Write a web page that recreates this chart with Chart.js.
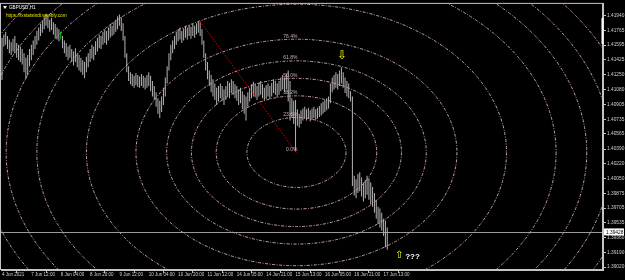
<!DOCTYPE html>
<html>
<head>
<meta charset="utf-8">
<title>GBPUSD,H1</title>
<script src="https://cdn.jsdelivr.net/npm/chart.js@4.4.1/dist/chart.umd.min.js"></script>
<style>
    html, body { margin: 0; padding: 0; background: #000; }
    #chart { display: block; }
</style>
</head>
<body>
<canvas id="chart" width="625" height="280"></canvas>
<script>
// ===== DADOS =====
const symbolTitle = 'GBPUSD,H1';
const siteUrl = 'https://fxstatsindi.weebly.com';

// H1 bars, 4 Jun 2021 21:00 -> 17 Jun 15:00
const highs = [
    1.4168, 1.4172, 1.4175, 1.4170, 1.4166, 1.4163, 1.4167, 1.4170, 1.4162, 1.4160,
    1.4158, 1.4155, 1.4150, 1.4145, 1.4148, 1.4155, 1.4160, 1.4165, 1.4170, 1.4176,
    1.4180, 1.4184, 1.4188, 1.4192, 1.4196, 1.4193, 1.4189, 1.4191, 1.4186, 1.4184,
    1.4180, 1.4178, 1.4175, 1.4170, 1.4165, 1.4162, 1.4158, 1.4160, 1.4155, 1.4152,
    1.4156, 1.4150, 1.4148, 1.4145, 1.4142, 1.4140, 1.4146, 1.4150, 1.4155, 1.4160,
    1.4158, 1.4164, 1.4168, 1.4172, 1.4170, 1.4175, 1.4178, 1.4176, 1.4180, 1.4184,
    1.4182, 1.4186, 1.4189, 1.4193, 1.4195, 1.4192, 1.4185, 1.4170, 1.4150, 1.4135,
    1.4128, 1.4126, 1.4124, 1.4127, 1.4125, 1.4123, 1.4126, 1.4124, 1.4122, 1.4125,
    1.4128, 1.4124, 1.4118, 1.4112, 1.4105, 1.4098, 1.4095, 1.4100, 1.4110, 1.4122,
    1.4135, 1.4150, 1.4160, 1.4165, 1.4170, 1.4175, 1.4178, 1.4180, 1.4176, 1.4179,
    1.4182, 1.4180, 1.4183, 1.4181, 1.4184, 1.4182, 1.4185, 1.4187, 1.4186, 1.4178,
    1.4165, 1.4150, 1.4140, 1.4130, 1.4125, 1.4120, 1.4115, 1.4110, 1.4112, 1.4115,
    1.4112, 1.4108, 1.4112, 1.4118, 1.4116, 1.4120, 1.4118, 1.4114, 1.4112, 1.4108,
    1.4110, 1.4106, 1.4102, 1.4100, 1.4105, 1.4110, 1.4114, 1.4117, 1.4115, 1.4112,
    1.4116, 1.4118, 1.4114, 1.4110, 1.4113, 1.4115, 1.4112, 1.4116, 1.4120, 1.4118,
    1.4115, 1.4118, 1.4122, 1.4125, 1.4122, 1.4126, 1.4130, 1.4118, 1.4098, 1.4095,
    1.4096, 1.4085, 1.4080, 1.4084, 1.4086, 1.4088, 1.4085, 1.4087, 1.4084, 1.4086,
    1.4088, 1.4085, 1.4087, 1.4089, 1.4092, 1.4094, 1.4096, 1.4098, 1.4100, 1.4115,
    1.4122, 1.4125, 1.4128, 1.4126, 1.4130, 1.4134, 1.4128, 1.4122, 1.4118, 1.4115,
    1.4106, 1.4100, 1.4008, 1.4004, 1.4010, 1.4012, 1.4006, 1.4000, 1.4003, 1.4008,
    1.4005, 1.4000, 1.3995, 1.3988, 1.3980, 1.3972, 1.3970, 1.3965, 1.3958, 1.3956,
    1.3948
];
const lows = [
    1.4119, 1.4158, 1.4160, 1.4155, 1.4150, 1.4148, 1.4152, 1.4150, 1.4145, 1.4142,
    1.4140, 1.4137, 1.4128, 1.4120, 1.4125, 1.4135, 1.4142, 1.4148, 1.4155, 1.4160,
    1.4165, 1.4170, 1.4174, 1.4178, 1.4182, 1.4179, 1.4175, 1.4177, 1.4172, 1.4168,
    1.4166, 1.4164, 1.4166, 1.4156, 1.4150, 1.4146, 1.4142, 1.4145, 1.4140, 1.4136,
    1.4140, 1.4134, 1.4130, 1.4128, 1.4125, 1.4121, 1.4128, 1.4134, 1.4140, 1.4144,
    1.4142, 1.4148, 1.4152, 1.4156, 1.4155, 1.4160, 1.4162, 1.4160, 1.4165, 1.4168,
    1.4170, 1.4172, 1.4175, 1.4178, 1.4182, 1.4176, 1.4165, 1.4145, 1.4128, 1.4118,
    1.4114, 1.4112, 1.4110, 1.4113, 1.4111, 1.4110, 1.4112, 1.4110, 1.4108, 1.4110,
    1.4112, 1.4106, 1.4100, 1.4096, 1.4088, 1.4080, 1.4075, 1.4082, 1.4090, 1.4100,
    1.4115, 1.4130, 1.4142, 1.4150, 1.4155, 1.4160, 1.4164, 1.4166, 1.4162, 1.4165,
    1.4168, 1.4166, 1.4170, 1.4167, 1.4170, 1.4168, 1.4172, 1.4174, 1.4170, 1.4160,
    1.4145, 1.4130, 1.4120, 1.4112, 1.4105, 1.4100, 1.4096, 1.4090, 1.4094, 1.4098,
    1.4095, 1.4090, 1.4096, 1.4100, 1.4098, 1.4104, 1.4102, 1.4098, 1.4095, 1.4090,
    1.4092, 1.4085, 1.4080, 1.4072, 1.4088, 1.4094, 1.4098, 1.4100, 1.4099, 1.4096,
    1.4100, 1.4102, 1.4098, 1.4095, 1.4097, 1.4100, 1.4097, 1.4100, 1.4104, 1.4102,
    1.4099, 1.4102, 1.4106, 1.4108, 1.4105, 1.4108, 1.4094, 1.4072, 1.4075, 1.4068,
    1.4036, 1.4066, 1.4064, 1.4068, 1.4072, 1.4074, 1.4072, 1.4074, 1.4071, 1.4073,
    1.4075, 1.4073, 1.4074, 1.4076, 1.4078, 1.4080, 1.4082, 1.4084, 1.4086, 1.4092,
    1.4105, 1.4108, 1.4110, 1.4108, 1.4112, 1.4115, 1.4110, 1.4104, 1.4100, 1.4098,
    1.4094, 1.3996, 1.3985, 1.3982, 1.3988, 1.3990, 1.3984, 1.3978, 1.3982, 1.3986,
    1.3980, 1.3975, 1.3972, 1.3965, 1.3958, 1.3952, 1.3948, 1.3944, 1.3938, 1.3925,
    1.3922
];
const greenBars = [32];
const bidPrice = 1.39428;

// eixo de preço e eixo de tempo (um rótulo a cada 16 barras)
const priceTicks = [
    1.41940, 1.41765, 1.41595, 1.41425, 1.41250, 1.41080, 1.40905, 1.40735, 1.40565,
    1.40390, 1.40220, 1.40050, 1.39875, 1.39705, 1.39535, 1.39360, 1.39190, 1.39020
];
const timeLabels = [
    '4 Jun 2021', '7 Jun 12:00', '8 Jun 04:00', '8 Jun 20:00', '9 Jun 12:00',
    '10 Jun 04:00', '10 Jun 20:00', '11 Jun 12:00', '14 Jun 05:00', '14 Jun 21:00',
    '15 Jun 13:00', '16 Jun 05:00', '16 Jun 21:00', '17 Jun 13:00'
];
const barsPerLabel = 16;
const priceMin = 1.38986;
const priceMax = 1.42074;
const barMin = -0.55;
const barMax = 327.6;

// Fibonacci arcs: ponto 1 (topo) -> ponto 2 (fundo, centro dos arcos)
const fibFrom = [108, 1.4187];
const fibTo = [160.5, 1.4035];
const fibRadiusBars = 114.5;
const fibRadiusPrice = 0.0172;
const fibLevels = [0.236, 0.382, 0.5, 0.618, 0.764, 1, 1.236, 1.382, 1.5, 1.618];
const fibLabelLevels = [0, 0.236, 0.382, 0.5, 0.618, 0.764, 1];

// setas amarelas
const arrowDown = [185.5, 1.4147];
const arrowUp = [216.5, 1.3915];
const questionText = '???';

// ===== CORES / FONTES =====
const FONT = '"Liberation Sans", "DejaVu Sans", sans-serif';
const AXIS_COLOR = '#c4c4c4';
const BAR_COLOR = '#b4b4b4';
const ARC_COLOR = '#c9a0aa';

let mainChart = null;

// ===== PLUGIN DE OBJETOS (MT4) =====
const mt4Objects = {
    id: 'mt4Objects',
    beforeDatasetsDraw(chart) {
        const { ctx, chartArea: a, scales: { y } } = chart;
        // linha do Bid
        const by = Math.round(y.getPixelForValue(bidPrice)) + 0.5;
        ctx.save();
        ctx.strokeStyle = '#9a9a9a';
        ctx.lineWidth = 1;
        ctx.beginPath();
        ctx.moveTo(a.left, by);
        ctx.lineTo(a.right, by);
        ctx.stroke();
        ctx.restore();
    },
    afterDatasetsDraw(chart) {
        const { ctx, chartArea: a, scales: { x, y } } = chart;
        const cx = x.getPixelForValue(fibTo[0]);
        const cy = y.getPixelForValue(fibTo[1]);
        const rx1 = x.getPixelForValue(fibTo[0] + fibRadiusBars) - cx;
        const ry1 = y.getPixelForValue(fibTo[1] - fibRadiusPrice) - cy;

        ctx.save();
        ctx.beginPath();
        ctx.rect(a.left, a.top, a.right - a.left, a.bottom - a.top);
        ctx.clip();

        // arcos (elipses)
        ctx.strokeStyle = ARC_COLOR;
        ctx.lineWidth = 1;
        ctx.setLineDash([3, 1.5, 1, 1.5]);
        fibLevels.forEach(lv => {
            ctx.beginPath();
            ctx.ellipse(cx, cy, rx1 * lv, ry1 * lv, 0, 0, Math.PI * 2);
            ctx.stroke();
        });

        // linha de tendência vermelha
        ctx.strokeStyle = '#e00000';
        ctx.setLineDash([1.5, 1.5]);
        ctx.beginPath();
        ctx.moveTo(x.getPixelForValue(fibFrom[0]), y.getPixelForValue(fibFrom[1]));
        ctx.lineTo(cx, cy);
        ctx.stroke();
        ctx.setLineDash([]);

        // rótulos dos níveis
        ctx.fillStyle = '#cbb0b8';
        ctx.font = '5px ' + FONT;
        ctx.textAlign = 'right';
        ctx.textBaseline = 'bottom';
        fibLabelLevels.forEach(lv => {
            ctx.fillText((lv * 100).toFixed(1) + '%', cx + 1, cy - ry1 * lv - 0.5);
        });

        // setas
        ctx.fillStyle = '#ffff00';
        ctx.textAlign = 'center';
        ctx.textBaseline = 'middle';
        ctx.font = '12px "DejaVu Sans"';
        ctx.fillText('\u21E9', x.getPixelForValue(arrowDown[0]), y.getPixelForValue(arrowDown[1]));
        ctx.font = '10px "DejaVu Sans"';
        const ux = x.getPixelForValue(arrowUp[0]);
        const uy = y.getPixelForValue(arrowUp[1]);
        ctx.fillText('\u21E7', ux, uy);
        ctx.fillStyle = '#ffffff';
        ctx.font = 'bold 8px ' + FONT;
        ctx.textAlign = 'left';
        ctx.fillText(questionText, ux + 6, uy + 0.5);
        ctx.restore();
    },
    afterDraw(chart) {
        const { ctx, chartArea: a, scales: { y } } = chart;
        ctx.save();
        // moldura
        ctx.strokeStyle = AXIS_COLOR;
        ctx.lineWidth = 1;
        ctx.strokeRect(a.left - 0.5, a.top - 0.5, a.right - a.left, a.bottom - a.top);

        // marcador branco no eixo de preço
        const t1 = y.getPixelForValue(1.4191);
        const t2 = y.getPixelForValue(1.4161);
        ctx.fillStyle = '#ffffff';
        ctx.fillRect(a.right - 1.5, t1, 2, t2 - t1);

        // caixa do Bid
        const by = y.getPixelForValue(bidPrice);
        ctx.fillStyle = '#ffffff';
        ctx.fillRect(a.right + 1, by - 3.5, chart.width - a.right - 2, 7);
        ctx.fillStyle = '#000000';
        ctx.font = '4.8px ' + FONT;
        ctx.textAlign = 'left';
        ctx.textBaseline = 'middle';
        ctx.fillText(bidPrice.toFixed(5), a.right + 3, by + 0.3);

        // título e URL
        ctx.fillStyle = '#ffffff';
        ctx.beginPath();
        ctx.moveTo(a.left + 2, a.top + 2);
        ctx.lineTo(a.left + 6, a.top + 2);
        ctx.lineTo(a.left + 4, a.top + 5);
        ctx.closePath();
        ctx.fill();
        ctx.font = '4.6px ' + FONT;
        ctx.textBaseline = 'middle';
        ctx.fillText(symbolTitle, a.left + 8, a.top + 3.5);
        ctx.fillStyle = '#e6e600';
        ctx.font = '4.7px ' + FONT;
        ctx.fillText(siteUrl, a.left + 5, a.top + 12);
        ctx.restore();
    }
};

// ===== GRÁFICO =====
function initChart() {
    const canvas = document.getElementById('chart');
    const bars = highs.map((h, i) => ({ x: i, y: [lows[i], h] }));

    mainChart = new Chart(canvas, {
        type: 'bar',
        data: {
            datasets: [{
                label: symbolTitle,
                data: bars,
                backgroundColor: ctx => greenBars.includes(ctx.dataIndex) ? '#00c800' : BAR_COLOR,
                borderWidth: 0,
                barThickness: 1,
                inflateAmount: 0,
                grouped: false
            }]
        },
        options: {
            responsive: false,
            devicePixelRatio: 1,
            animation: false,
            events: [],
            layout: { padding: { left: 1, top: 1, right: 0, bottom: 0 } },
            plugins: {
                legend: { display: false },
                tooltip: { enabled: false }
            },
            scales: {
                x: {
                    type: 'linear',
                    min: barMin,
                    max: barMax,
                    offset: false,
                    afterBuildTicks: scale => {
                        scale.ticks = timeLabels.map((t, k) => ({ value: k * barsPerLabel }));
                    },
                    afterFit: scale => { scale.height = 10; },
                    grid: {
                        drawOnChartArea: false,
                        drawTicks: true,
                        tickLength: 3,
                        color: AXIS_COLOR
                    },
                    border: { display: true, color: AXIS_COLOR },
                    ticks: {
                        autoSkip: false,
                        maxRotation: 0,
                        align: 'start',
                        padding: -1,
                        color: '#d0d0d0',
                        font: { family: FONT, size: 4.5 },
                        callback: value => timeLabels[Math.round(value / barsPerLabel)] || ''
                    }
                },
                y: {
                    type: 'linear',
                    position: 'right',
                    min: priceMin,
                    max: priceMax,
                    afterBuildTicks: scale => {
                        scale.ticks = priceTicks.map(v => ({ value: v }));
                    },
                    afterFit: scale => { scale.width = 22; },
                    grid: {
                        drawOnChartArea: false,
                        drawTicks: true,
                        tickLength: 3,
                        color: AXIS_COLOR
                    },
                    border: { display: true, color: AXIS_COLOR },
                    ticks: {
                        padding: 1,
                        color: '#d0d0d0',
                        font: { family: FONT, size: 4.8 },
                        callback: value => Number(value).toFixed(5)
                    }
                }
            }
        },
        plugins: [mt4Objects]
    });
}

document.addEventListener('DOMContentLoaded', function() {
    initChart();
});
</script>
</body>
</html>
